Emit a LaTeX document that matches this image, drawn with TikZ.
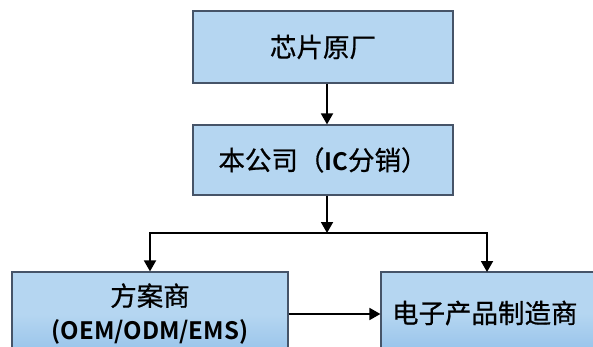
\documentclass[tikz,border=0pt]{standalone}
\usepackage{fontspec}
\setmainfont{Noto Sans CJK SC}[FakeBold=0.7, BoldFont={Noto Sans CJK SC Bold}, BoldFeatures={FakeBold=0}]
\usetikzlibrary{arrows.meta}
\definecolor{boxfill}{RGB}{181,214,241}
\definecolor{boxfilldark}{RGB}{150,194,234}
\definecolor{boxline}{RGB}{70,84,104}
\newcommand{\lat}[1]{{\bfseries\fontsize{24}{30}\selectfont #1}}
\tikzset{
  flowbox/.style={draw=boxline, line width=1.2pt, fill=boxfill, rectangle, inner sep=0pt, align=center, font=\fontsize{26.5}{32}\selectfont},
  gradbox/.style={flowbox, top color=boxfill, bottom color=boxfilldark, middle color=boxfill},
  conn/.style={line width=1.8pt, -{Triangle[length=11pt,width=12pt]}},
}
\begin{document}
\begin{tikzpicture}[x=1pt,y=-1pt]
\useasboundingbox (0,0) rectangle (593,347);
\clip (0,0) rectangle (593,347);
\node[flowbox, minimum width=260pt, minimum height=72pt] (chip) at (323,47) {芯片原厂};
\node[flowbox, minimum width=260pt, minimum height=70pt] (us) at (323,160) {本公司（\lat{IC}分销）};
\node[gradbox, minimum width=276pt, minimum height=84pt] (sol) at (150,314) {方案商\\[2pt]\lat{(OEM/ODM/EMS)}};
\node[gradbox, minimum width=240pt, minimum height=82pt, text width=230pt, align=left] (mfr) at (501,313) {\hspace*{6pt}电子产品制造商};
\coordinate (split) at (327,233);
\draw[conn] (chip.south -| split) -- (us.north -| split);
\draw[conn] (us.south -| split) -- (split);
\draw[conn] (split) -| (sol.north);
\draw[conn] (split) -| (487,272);
\draw[conn] (sol.east |- 0,314) -- (mfr.west |- 0,314);
\end{tikzpicture}
\end{document}
